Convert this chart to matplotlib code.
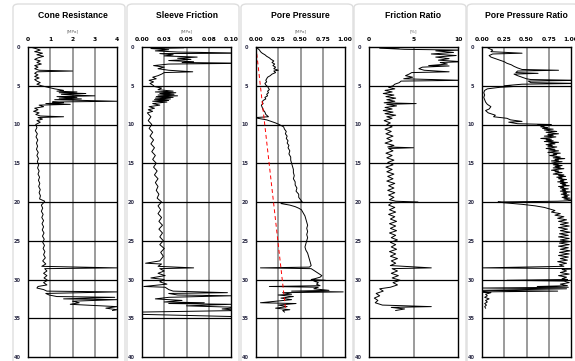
import matplotlib.pyplot as plt
import numpy as np
from matplotlib.patches import FancyBboxPatch

# --- dados (profundidade [m], valor) ---
qc_pts = np.array([
    (0.0, 0.10), (0.2, 0.35), (0.4, 0.55), (0.6, 0.30), (0.8, 0.65), (1.0, 0.40), (1.2, 0.70), (1.4, 0.45),
    (1.6, 0.30), (1.8, 0.55), (2.0, 0.40), (2.2, 0.60), (2.4, 0.30), (2.6, 0.45), (2.8, 0.30), (3.0, 0.50),
    (3.1, 2.00), (3.2, 0.40), (3.4, 0.30), (3.6, 0.45), (3.8, 0.30), (4.0, 0.50), (4.2, 0.30), (4.4, 0.40),
    (4.6, 0.55), (4.8, 0.40), (5.0, 0.60), (5.2, 0.90), (5.4, 1.20), (5.6, 1.60), (5.7, 1.30), (5.8, 2.20),
    (5.9, 1.40), (6.0, 2.60), (6.1, 1.50), (6.2, 2.00), (6.3, 3.00), (6.4, 1.30), (6.5, 2.20), (6.6, 1.40),
    (6.7, 2.40), (6.8, 1.20), (6.9, 2.70), (7.0, 4.00), (7.1, 1.10), (7.2, 1.60), (7.3, 0.80), (7.4, 1.90),
    (7.5, 0.50), (7.7, 0.70), (7.9, 0.30), (8.1, 0.45), (8.3, 0.25), (8.5, 0.50), (8.7, 0.35), (8.9, 0.55),
    (9.0, 1.60), (9.1, 0.45), (9.3, 0.65), (9.5, 0.40), (9.7, 0.55), (10.0, 0.35), (10.4, 0.40), (10.8, 0.33),
    (11.2, 0.42), (11.6, 0.36), (12.0, 0.44), (12.4, 0.38), (12.8, 0.43), (13.2, 0.38), (13.6, 0.46),
    (14.0, 0.40), (14.4, 0.47), (14.8, 0.42), (15.2, 0.48), (15.6, 0.43), (16.0, 0.50), (16.4, 0.45),
    (16.8, 0.52), (17.2, 0.47), (17.6, 0.53), (18.0, 0.48), (18.4, 0.55), (18.8, 0.50), (19.2, 0.56),
    (19.6, 0.52), (19.9, 0.75), (20.1, 0.70), (20.4, 0.60), (20.8, 0.66), (21.2, 0.60), (21.6, 0.68),
    (22.0, 0.62), (22.4, 0.70), (22.8, 0.63), (23.2, 0.70), (23.6, 0.64), (24.0, 0.72), (24.4, 0.65),
    (24.8, 0.73), (25.2, 0.66), (25.6, 0.74), (26.0, 0.68), (26.4, 0.76), (26.8, 0.70), (27.2, 0.78),
    (27.6, 0.66), (28.0, 0.80), (28.3, 0.62), (28.5, 4.00), (28.6, 0.75), (28.9, 0.85), (29.2, 0.70),
    (29.5, 0.85), (29.8, 0.72), (30.1, 0.88), (30.4, 0.70), (30.7, 0.85), (30.9, 0.45), (31.1, 0.40),
    (31.3, 0.70), (31.5, 0.85), (31.6, 4.00), (31.8, 0.80), (32.0, 0.95), (32.2, 1.30), (32.3, 3.90),
    (32.5, 1.60), (32.6, 4.00), (32.8, 2.00), (33.0, 2.30), (33.2, 1.90), (33.5, 4.00), (33.7, 3.50),
    (33.9, 4.00), (34.0, 3.80)])

fs_pts = np.array([
    (0.0, 0.004), (0.1, 0.047), (0.2, 0.010), (0.35, 0.030), (0.5, 0.015), (0.65, 0.040), (0.8, 0.120),
    (0.85, 0.020), (1.0, 0.035), (1.15, 0.025), (1.3, 0.062), (1.45, 0.040), (1.6, 0.055), (1.75, 0.030),
    (1.9, 0.058), (2.0, 0.045), (2.1, 0.120), (2.2, 0.030), (2.4, 0.013), (2.6, 0.025), (2.8, 0.018),
    (3.0, 0.030), (3.2, 0.057), (3.3, 0.025), (3.5, 0.022), (3.7, 0.018), (3.9, 0.012), (4.1, 0.016),
    (4.3, 0.008), (4.5, 0.013), (4.7, 0.009), (4.9, 0.012), (5.1, 0.014), (5.3, 0.022), (5.5, 0.018),
    (5.7, 0.035), (5.8, 0.015), (5.9, 0.038), (6.0, 0.020), (6.1, 0.036), (6.2, 0.018), (6.3, 0.040),
    (6.4, 0.016), (6.5, 0.035), (6.6, 0.015), (6.7, 0.032), (6.8, 0.014), (6.9, 0.030), (7.0, 0.012),
    (7.1, 0.028), (7.3, 0.012), (7.5, 0.020), (7.7, 0.008), (7.9, 0.014), (8.1, 0.007), (8.3, 0.012),
    (8.5, 0.006), (9.0, 0.010), (9.5, 0.007), (10.0, 0.011), (10.5, 0.008), (11.0, 0.012), (11.5, 0.009),
    (12.0, 0.013), (12.5, 0.010), (13.0, 0.014), (13.5, 0.011), (14.0, 0.015), (14.5, 0.012), (15.0, 0.016),
    (15.5, 0.013), (16.0, 0.017), (16.5, 0.014), (17.0, 0.018), (17.5, 0.015), (18.0, 0.018), (18.5, 0.016),
    (19.0, 0.019), (19.5, 0.017), (20.0, 0.022), (20.5, 0.018), (21.0, 0.021), (21.5, 0.018), (22.0, 0.022),
    (22.5, 0.019), (23.0, 0.023), (23.5, 0.019), (24.0, 0.023), (24.5, 0.020), (25.0, 0.024), (25.5, 0.020),
    (26.0, 0.025), (26.5, 0.021), (27.0, 0.024), (27.6, 0.020), (27.9, 0.004), (28.0, 0.022), (28.3, 0.018),
    (28.5, 0.058), (28.6, 0.020), (28.9, 0.025), (29.2, 0.018), (29.5, 0.026), (29.8, 0.010), (30.0, 0.025),
    (30.3, 0.020), (30.6, 0.028), (30.9, 0.002), (31.0, 0.026), (31.3, 0.030), (31.5, 0.035), (31.7, 0.096),
    (31.8, 0.030), (32.0, 0.040), (32.1, 0.100), (32.3, 0.030), (32.5, 0.015), (32.7, 0.045), (32.9, 0.025),
    (33.0, 0.070), (33.1, 0.030), (33.2, 0.100), (33.4, 0.050), (33.6, 0.110), (33.8, 0.090), (34.0, 0.110),
    (34.2, 0.000), (34.5, 0.000), (34.8, 0.110)])

u2_pts = np.array([
    (0.0, 0.00), (0.2, 0.02), (0.4, 0.04), (0.6, 0.05), (0.8, 0.07), (1.0, 0.10), (1.2, 0.12), (1.4, 0.15),
    (1.6, 0.17), (1.8, 0.20), (2.0, 0.18), (2.2, 0.21), (2.4, 0.19), (2.6, 0.22), (2.8, 0.20), (3.0, 0.25),
    (3.1, 0.20), (3.3, 0.22), (3.5, 0.18), (3.7, 0.16), (3.9, 0.13), (4.1, 0.12), (4.3, 0.11), (4.5, 0.12),
    (4.7, 0.10), (4.9, 0.11), (5.1, 0.13), (5.3, 0.14), (5.5, 0.15), (5.7, 0.13), (5.9, 0.14), (6.1, 0.12),
    (6.3, 0.13), (6.5, 0.10), (6.7, 0.11), (6.9, 0.08), (7.1, 0.07), (7.3, 0.08), (7.5, 0.06), (7.8, 0.07),
    (8.1, 0.08), (8.4, 0.10), (8.7, 0.11), (9.0, 0.14), (9.1, 0.00), (9.2, 0.02), (9.4, 0.12), (9.6, 0.17),
    (9.8, 0.22), (10.0, 0.26), (10.3, 0.31), (10.6, 0.32), (10.9, 0.34), (11.2, 0.33), (11.5, 0.35),
    (11.8, 0.34), (12.1, 0.36), (12.4, 0.35), (12.7, 0.37), (13.0, 0.36), (13.4, 0.38), (13.8, 0.37),
    (14.2, 0.39), (14.6, 0.39), (15.0, 0.40), (15.4, 0.41), (15.8, 0.42), (16.2, 0.42), (16.6, 0.43),
    (17.0, 0.42), (17.4, 0.44), (17.8, 0.44), (18.2, 0.46), (18.6, 0.45), (19.0, 0.48), (19.4, 0.48),
    (19.7, 0.50), (20.0, 0.52), (20.1, 0.30), (20.2, 0.28), (20.4, 0.38), (20.6, 0.44), (20.8, 0.48),
    (21.0, 0.51), (21.4, 0.53), (21.8, 0.55), (22.2, 0.56), (22.6, 0.57), (23.0, 0.58), (23.4, 0.57),
    (23.8, 0.58), (24.2, 0.57), (24.6, 0.58), (25.0, 0.57), (25.4, 0.56), (25.8, 0.55), (26.2, 0.56),
    (26.6, 0.58), (27.0, 0.59), (27.4, 0.60), (27.8, 0.61), (28.2, 0.62), (28.4, 0.60), (28.5, 0.05),
    (28.6, 0.62), (28.9, 0.66), (29.2, 0.70), (29.5, 0.74), (29.7, 0.72), (29.9, 0.66), (30.0, 0.62),
    (30.1, 0.78), (30.2, 0.65), (30.4, 0.70), (30.6, 0.68), (30.8, 0.72), (30.9, 0.15), (31.0, 0.70),
    (31.2, 0.65), (31.4, 0.82), (31.5, 0.40), (31.6, 0.98), (31.7, 0.30), (31.9, 0.40), (32.0, 0.25),
    (32.2, 0.42), (32.4, 0.28), (32.6, 0.40), (32.8, 0.22), (33.0, 0.05), (33.1, 0.45), (33.3, 0.25),
    (33.5, 0.35), (33.7, 0.22), (33.9, 0.38), (34.0, 0.30), (34.2, 0.32)])

# pressao hidrostatica (linha tracejada vermelha)
u0_depth = [0.0, 34.0]
u0 = [0.0, 0.334]

rf_pts = np.array([
    (0.0, 1.0), (0.1, 3.4), (0.15, 1.2), (0.3, 4.0), (0.4, 10.5), (0.5, 7.5), (0.7, 9.5), (0.9, 7.0),
    (1.1, 9.8), (1.3, 7.5), (1.5, 9.0), (1.7, 7.8), (1.9, 10.5), (2.0, 8.0), (2.2, 8.8), (2.4, 6.7),
    (2.45, 9.0), (2.6, 6.0), (2.8, 5.6), (3.0, 6.2), (3.2, 9.0), (3.3, 4.8), (3.5, 4.5), (3.7, 4.1),
    (3.9, 4.9), (4.1, 3.9), (4.3, 10.5), (4.4, 3.6), (4.6, 3.4), (4.8, 2.9), (5.0, 2.7), (5.2, 2.2),
    (5.4, 2.9), (5.6, 1.8), (5.8, 2.6), (6.0, 1.6), (6.2, 2.8), (6.4, 1.9), (6.6, 3.0), (6.8, 2.0),
    (7.0, 2.9), (7.2, 1.7), (7.3, 5.3), (7.4, 2.0), (7.6, 3.1), (7.8, 1.8), (8.0, 2.6), (8.2, 1.6),
    (8.4, 2.7), (8.6, 1.8), (8.8, 3.0), (9.0, 2.0), (9.2, 2.6), (9.5, 1.7), (9.8, 2.4), (10.0, 2.0),
    (10.3, 2.6), (10.6, 1.8), (10.9, 2.5), (11.2, 1.9), (11.5, 2.7), (11.8, 2.0), (12.1, 2.6), (12.4, 1.8),
    (12.7, 2.8), (12.9, 2.1), (13.0, 5.0), (13.1, 2.2), (13.4, 2.7), (13.7, 1.9), (14.0, 2.6), (14.3, 2.0),
    (14.6, 2.8), (14.9, 2.1), (15.2, 2.7), (15.5, 1.9), (15.8, 2.6), (16.1, 2.0), (16.4, 2.8), (16.7, 2.1),
    (17.0, 2.7), (17.3, 2.0), (17.6, 2.9), (17.9, 2.2), (18.2, 2.8), (18.5, 2.1), (18.8, 2.9), (19.1, 2.2),
    (19.4, 2.8), (19.7, 2.3), (19.9, 3.0), (20.0, 5.5), (20.1, 2.6), (20.4, 2.2), (20.7, 2.9), (21.0, 2.3),
    (21.3, 3.0), (21.6, 2.2), (21.9, 2.9), (22.2, 2.4), (22.5, 3.1), (22.8, 2.3), (23.1, 3.0), (23.4, 2.4),
    (23.7, 3.1), (24.0, 2.3), (24.3, 3.0), (24.6, 2.5), (24.9, 3.2), (25.2, 2.4), (25.5, 3.0), (25.8, 2.5),
    (26.1, 3.1), (26.4, 2.3), (26.7, 3.0), (27.0, 2.4), (27.3, 3.2), (27.6, 2.5), (27.9, 3.0), (28.2, 2.4),
    (28.5, 7.0), (28.6, 2.6), (28.9, 3.2), (29.2, 2.5), (29.5, 3.3), (29.8, 2.6), (30.1, 3.5), (30.4, 2.7),
    (30.7, 3.2), (31.0, 2.4), (31.2, 1.2), (31.5, 1.6), (31.8, 0.8), (32.1, 1.2), (32.4, 0.6), (32.7, 1.0),
    (33.0, 0.7), (33.3, 1.5), (33.5, 7.0), (33.6, 2.5), (33.8, 4.0), (34.0, 3.0)])

bq_pts = np.array([
    (0.0, 0.05), (0.2, 0.08), (0.4, 0.12), (0.6, 0.10), (0.8, 0.45), (0.9, 0.12), (1.1, 0.08), (1.3, 0.10),
    (1.5, 0.15), (1.7, 0.20), (1.9, 0.25), (2.1, 0.28), (2.3, 0.33), (2.5, 0.36), (2.7, 0.40), (2.9, 0.45),
    (3.0, 0.86), (3.1, 0.40), (3.3, 0.38), (3.4, 0.63), (3.5, 0.36), (3.7, 0.40), (3.9, 0.45), (4.1, 0.50),
    (4.2, 0.55), (4.3, 1.10), (4.4, 0.52), (4.6, 0.55), (4.7, 1.10), (4.8, 0.45), (5.0, 0.25), (5.1, 0.35),
    (5.2, 0.20), (5.4, 0.06), (5.6, 0.03), (5.9, 0.02), (6.2, 0.03), (6.5, 0.02), (6.8, 0.03), (7.1, 0.04),
    (7.4, 0.06), (7.7, 0.10), (8.0, 0.08), (8.2, 0.04), (8.5, 0.07), (8.8, 0.15), (9.0, 0.13), (9.2, 0.28),
    (9.4, 0.32), (9.6, 0.45), (9.7, 0.30), (9.9, 0.40),
    (10.0, 0.78), (10.1, 0.62), (10.2, 0.70), (10.3, 0.66), (10.4, 0.74), (10.5, 0.68), (10.6, 0.80),
    (10.7, 0.70), (10.8, 0.76), (10.9, 0.84), (11.0, 0.72), (11.1, 0.78), (11.2, 0.86), (11.3, 0.74),
    (11.4, 0.80), (11.5, 0.70), (11.6, 0.83), (11.7, 0.76), (11.8, 0.66), (11.9, 0.78), (12.0, 0.72),
    (12.1, 0.80), (12.2, 0.70), (12.3, 0.86), (12.4, 0.76), (12.5, 0.82), (12.6, 0.72), (12.7, 0.79),
    (12.8, 0.74), (12.9, 0.84), (13.0, 0.78), (13.1, 0.72), (13.2, 0.82), (13.3, 0.76), (13.4, 0.86),
    (13.5, 0.80), (13.6, 0.74), (13.7, 0.88), (13.8, 0.80), (13.9, 0.84), (14.0, 0.76), (14.1, 0.82),
    (14.2, 0.88), (14.3, 0.80), (14.4, 0.93), (14.5, 0.82), (14.6, 0.86), (14.7, 0.78), (14.8, 0.90),
    (14.9, 0.82), (15.0, 0.78), (15.1, 0.86), (15.2, 0.80), (15.3, 0.90), (15.4, 0.82), (15.5, 0.88),
    (15.6, 0.80), (15.7, 0.92), (15.8, 0.84), (15.9, 0.78), (16.0, 0.86), (16.1, 0.82), (16.2, 0.90),
    (16.3, 0.84), (16.4, 0.80), (16.5, 0.92), (16.6, 0.86), (16.7, 0.94), (16.8, 0.84), (16.9, 0.90),
    (17.0, 0.86), (17.1, 0.95), (17.2, 0.88), (17.3, 0.92), (17.4, 0.85), (17.5, 0.96), (17.6, 0.88),
    (17.7, 0.94), (17.8, 0.90), (17.9, 0.98), (18.0, 0.86), (18.1, 0.92), (18.2, 0.88), (18.3, 0.97),
    (18.4, 0.90), (18.5, 0.94), (18.6, 0.88), (18.7, 0.99), (18.8, 0.91), (18.9, 0.95), (19.0, 0.89),
    (19.1, 0.98), (19.2, 0.92), (19.3, 0.96), (19.4, 0.90), (19.5, 0.99), (19.6, 0.92), (19.7, 0.97),
    (19.8, 1.05), (19.9, 0.85),
    (20.0, 0.18), (20.1, 0.25), (20.3, 0.45), (20.5, 0.60), (20.7, 0.70), (20.9, 0.76), (21.1, 0.82),
    (21.3, 0.78), (21.5, 0.88), (21.7, 0.82), (21.9, 0.92), (22.1, 0.85), (22.3, 0.95), (22.5, 0.86),
    (22.7, 0.97), (22.9, 0.88), (23.1, 0.98), (23.3, 0.86), (23.5, 0.96), (23.7, 0.88), (23.9, 0.99),
    (24.1, 0.87), (24.3, 0.97), (24.5, 0.86), (24.7, 0.98), (24.9, 0.88), (25.1, 0.99), (25.3, 0.87),
    (25.5, 0.98), (25.7, 0.86), (25.9, 0.97), (26.1, 0.88), (26.3, 0.99), (26.5, 0.87), (26.7, 0.98),
    (26.9, 0.86), (27.1, 0.97), (27.3, 0.88), (27.5, 0.96), (27.7, 0.85), (27.9, 0.95), (28.1, 0.87),
    (28.3, 0.92), (28.5, 0.00), (28.6, 1.10), (28.7, 0.90), (28.9, 0.95), (29.1, 0.88), (29.3, 0.98),
    (29.5, 0.86), (29.7, 0.95), (29.9, 0.90), (30.0, 0.96), (30.1, 0.28), (30.2, 0.92), (30.4, 0.98),
    (30.6, 0.88), (30.8, 0.96), (30.9, 0.62), (31.0, 0.97), (31.1, 0.00), (31.2, 0.95), (31.4, 0.00),
    (31.5, 0.85), (31.6, 0.00), (31.7, 0.10), (31.9, 0.04), (32.1, 0.06), (32.3, 0.03), (32.5, 0.08),
    (32.7, 0.04), (32.9, 0.06), (33.1, 0.03), (33.3, 0.05), (33.5, 0.03), (33.7, 0.04)])

titles = ['Cone Resistance', 'Sleeve Friction', 'Pore Pressure', 'Friction Ratio', 'Pore Pressure Ratio']
units = ['[MPa]', '[MPa]', '[MPa]', '[%]', '']
xmaxs = [4, 0.10, 1.0, 10, 1.0]
xtick_vals = [[0, 1, 2, 3, 4],
              [0, 0.025, 0.05, 0.075, 0.10],
              [0, 0.25, 0.5, 0.75, 1.0],
              [0, 5, 10],
              [0, 0.25, 0.5, 0.75, 1.0]]
xtick_labels = [['0', '1', '2', '3', '4'],
                ['0.00', '0.03', '0.05', '0.08', '0.10'],
                ['0.00', '0.25', '0.50', '0.75', '1.00'],
                ['0', '5', '10'],
                ['0.00', '0.25', '0.50', '0.75', '1.00']]
series = [qc_pts, fs_pts, u2_pts, rf_pts, bq_pts]
depth_ticks = list(range(0, 45, 5))

W, H = 575, 361
ax_left = [28, 142, 256, 369, 482]
ax_w, ax_top, ax_bot = 89, 47, 357

fig = plt.figure(figsize=(W / 100, H / 100), dpi=100)

# — molduras cinza claro de cada painel (atras dos eixos) —
for xl in ax_left:
    fig.patches.append(FancyBboxPatch(((xl - 15) / W, -0.05), 112 / W, (H - 4) / H + 0.05,
                                      boxstyle='round,pad=0,rounding_size=0.01',
                                      transform=fig.transFigure, facecolor='white',
                                      edgecolor='#dedede', linewidth=1.0, zorder=-5))

for i in range(5):
    xl = ax_left[i]
    ax = fig.add_axes([xl / W, (H - ax_bot) / H, ax_w / W, (ax_bot - ax_top) / H])
    ax.set_zorder(2)
    pts = series[i]
    ax.plot(pts[:, 1], pts[:, 0], color='black', lw=0.7, zorder=3)
    if i == 2:
        ax.plot(u0, u0_depth, color='red', lw=0.7, ls=(0, (4, 3)), zorder=4)
    ax.set_xlim(0, xmaxs[i])
    ax.set_ylim(40, 0)
    for v in xtick_vals[i][1:-1]:
        ax.axvline(v, color='#808080', lw=1.1, zorder=1)
    for d in depth_ticks[1:-1]:
        ax.axhline(d, color='black', lw=0.9, zorder=2)
    ax.xaxis.tick_top()
    ax.set_xticks(xtick_vals[i])
    ax.set_xticklabels(xtick_labels[i], fontsize=4.3, fontweight='bold')
    ax.set_yticks(depth_ticks)
    ax.set_yticklabels([str(d) for d in depth_ticks], fontsize=3.6, fontweight='bold', color='#30304a')
    ax.tick_params(axis='both', length=0)
    ax.tick_params(axis='x', pad=3.5)
    ax.tick_params(axis='y', pad=5.5)
    for s in ax.spines.values():
        s.set_linewidth(1.0)
        s.set_zorder(5)
    cx = (xl + ax_w / 2) / W
    fig.text(cx, 1 - 15 / H, titles[i], ha='center', va='center', fontsize=6.2,
             fontweight='bold', family='Liberation Sans')
    if units[i]:
        fig.text(cx, 1 - 31 / H, units[i], ha='center', va='center', fontsize=3.2, color='#707070')

plt.savefig('out.png', dpi=100)
